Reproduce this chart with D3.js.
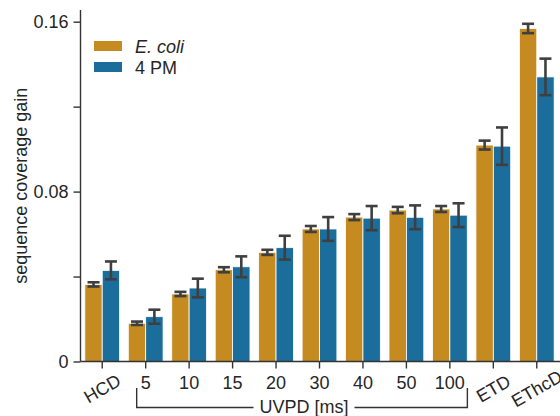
<!DOCTYPE html>
<html lang='en'>
<head>
<meta charset='UTF-8'>
<title>Sequence coverage gain</title>
<script src='https://cdn.jsdelivr.net/npm/d3@7'></script>
<style>
    body { margin: 0; background: #fff; }
    svg text { font-family: 'Liberation Sans', Arial, sans-serif; fill: #262626; }
    .axis path, .axis line { stroke: #333; stroke-width: 1.4; fill: none; }
    .bar { stroke: #fff; stroke-width: 0.8; }
    .err line { stroke: #3f3f3f; stroke-width: 2.6; }
</style>
</head>
<body>
<script>
    // data
    const categories = ['HCD', '5', '10', '15', '20', '30', '40', '50', '100', 'ETD', 'EThcD'];
    const seriesNames = ['E. coli', '4 PM'];
    const ecoliMean = [0.0363, 0.0180, 0.0318, 0.0432, 0.0514, 0.0624, 0.0680, 0.0713, 0.0718, 0.1019, 0.1568];
    const ecoliErr  = [0.0010, 0.0008, 0.0010, 0.0012, 0.0012, 0.0014, 0.0014, 0.0015, 0.0014, 0.0021, 0.0022];
    const pmMean    = [0.0429, 0.0211, 0.0346, 0.0446, 0.0536, 0.0624, 0.0675, 0.0679, 0.0689, 0.1014, 0.1340];
    const pmErr     = [0.0042, 0.0033, 0.0044, 0.0049, 0.0056, 0.0056, 0.0057, 0.0056, 0.0056, 0.0088, 0.0086];
    const yTicks = [0, 0.04, 0.08, 0.12, 0.16];
    const yLabelled = [0, 0.08, 0.16];
    const rotated = ['HCD', 'ETD', 'EThcD'];
    const colors = ['#c58a20', '#1b6e9c'];

    const W = 560, H = 416;
    const svg = d3.select('body').append('svg').attr('width', W).attr('height', H);

    const x = d3.scaleBand().domain(categories).range([80.5, 558.5]).paddingInner(0.2).paddingOuter(0.1);
    const xSub = d3.scaleBand().domain(seriesNames).range([0, x.bandwidth()]);
    const y = d3.scaleLinear().domain([0, 0.1655]).range([361.5, 10]);

    const rows = categories.map((c, i) => ({
        cat: c,
        vals: [
            { s: seriesNames[0], v: ecoliMean[i], e: ecoliErr[i], col: colors[0] },
            { s: seriesNames[1], v: pmMean[i], e: pmErr[i], col: colors[1] }
        ]
    }));

    const groups = svg.selectAll('.grp').data(rows).enter().append('g')
        .attr('class', 'grp')
        .attr('transform', d => `translate(${x(d.cat)},0)`);

    groups.selectAll('.bar').data(d => d.vals).enter().append('rect')
        .attr('class', 'bar')
        .attr('x', d => xSub(d.s))
        .attr('width', xSub.bandwidth())
        .attr('y', d => y(d.v))
        .attr('height', d => y(0) - y(d.v))
        .attr('fill', d => d.col);

    // error bars
    const err = groups.selectAll('.err').data(d => d.vals).enter().append('g').attr('class', 'err')
        .attr('transform', d => `translate(${xSub(d.s) + xSub.bandwidth() / 2},0)`);
    err.append('line').attr('y1', d => y(d.v - d.e)).attr('y2', d => y(d.v + d.e));
    err.append('line').attr('x1', -6).attr('x2', 6).attr('y1', d => y(d.v - d.e)).attr('y2', d => y(d.v - d.e));
    err.append('line').attr('x1', -6).attr('x2', 6).attr('y1', d => y(d.v + d.e)).attr('y2', d => y(d.v + d.e));

    // y axis
    const yAxis = svg.append('g').attr('class', 'axis')
        .attr('transform', 'translate(80.5,0)')
        .call(d3.axisLeft(y).tickValues(yTicks).tickSize(7).tickPadding(5).tickSizeOuter(0)
            .tickFormat(d => yLabelled.includes(d) ? (d === 0 ? '0' : d3.format('.2f')(d)) : ''));
    yAxis.select('.domain').attr('d', `M0,${y(0)}V10`);
    yAxis.selectAll('text').style('font-size', '18px');

    // x axis
    const xAxis = svg.append('g').attr('class', 'axis')
        .attr('transform', `translate(0,${y(0)})`)
        .call(d3.axisBottom(x).tickSize(7).tickPadding(8).tickSizeOuter(0));
    xAxis.select('.domain').attr('d', 'M80.5,0H560');
    xAxis.selectAll('text').style('font-size', '18px');
    xAxis.selectAll('.tick text')
        .filter(d => rotated.includes(d))
        .attr('y', 0).attr('dy', '0.35em')
        .attr('text-anchor', 'middle')
        .attr('transform', 'translate(0,27) rotate(-30)');

    // UVPD bracket
    const bx0 = x('5') + x.bandwidth() / 2 - 9;
    const bx1 = x('100') + x.bandwidth() / 2 + 17.5;
    const by = 407.5;
    const label = svg.append('text')
        .attr('x', 304).attr('y', 413)
        .attr('text-anchor', 'middle')
        .style('font-size', '18px')
        .text('UVPD [ms]');
    const lb = label.node().getBBox();
    svg.append('path')
        .attr('d', `M${bx0},388V${by}H${lb.x - 6}M${lb.x + lb.width + 6},${by}H${bx1}V388`)
        .attr('fill', 'none').attr('stroke', '#333').attr('stroke-width', 1.4);

    // y label
    svg.append('text')
        .attr('transform', `translate(27,${(y(0) + 10) / 2}) rotate(-90)`)
        .attr('text-anchor', 'middle')
        .style('font-size', '18px')
        .text('sequence coverage gain');

    // legend
    const legend = svg.append('g').attr('transform', 'translate(94,41)');
    seriesNames.forEach((s, i) => {
        legend.append('rect').attr('x', 0).attr('y', i * 21).attr('width', 28).attr('height', 10)
            .attr('fill', colors[i]);
        legend.append('text').attr('x', 41).attr('y', i * 21 + 12)
            .style('font-size', '18px')
            .style('font-style', i === 0 ? 'italic' : 'normal')
            .text(s);
    });
</script>
</body>
</html>
